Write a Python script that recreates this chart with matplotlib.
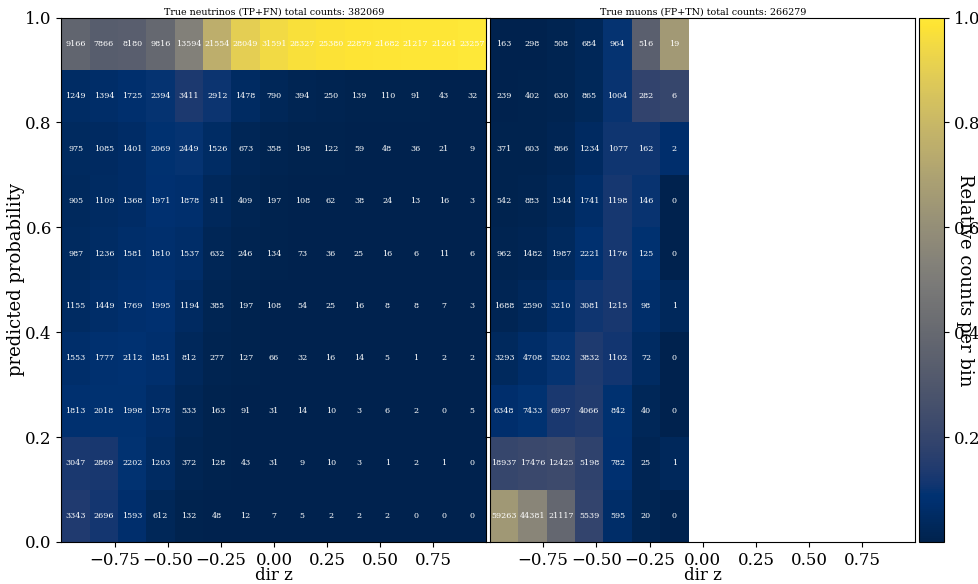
import numpy as np
import matplotlib
matplotlib.use("Agg")
import matplotlib.pyplot as plt

plt.rcParams['font.family'] = ['DejaVu Serif']

# counts, rows listed from top (prob 0.9-1.0) to bottom (0.0-0.1)
nu_counts = [
    [9166, 7866, 8180, 9816, 13594, 21554, 28049, 31591, 28327, 25380, 22879, 21682, 21217, 21261, 23257],
    [1249, 1394, 1725, 2394, 3411, 2912, 1478, 790, 394, 250, 139, 110, 91, 43, 32],
    [975, 1085, 1401, 2069, 2449, 1526, 673, 358, 198, 122, 59, 48, 36, 21, 9],
    [905, 1109, 1368, 1971, 1878, 911, 409, 197, 108, 62, 38, 24, 13, 16, 3],
    [987, 1236, 1581, 1810, 1537, 632, 246, 134, 73, 36, 25, 16, 6, 11, 6],
    [1155, 1449, 1769, 1995, 1194, 385, 197, 108, 54, 25, 16, 8, 8, 7, 3],
    [1553, 1777, 2112, 1851, 812, 277, 127, 66, 32, 16, 14, 5, 1, 2, 2],
    [1813, 2018, 1998, 1378, 533, 163, 91, 31, 14, 10, 3, 6, 2, 0, 5],
    [3047, 2869, 2202, 1203, 372, 128, 43, 31, 9, 10, 3, 1, 2, 1, 0],
    [3343, 2696, 1593, 612, 132, 48, 12, 7, 5, 2, 2, 2, 0, 0, 0],
]
mu_counts = [
    [163, 298, 508, 684, 964, 516, 19],
    [239, 402, 630, 865, 1004, 282, 6],
    [371, 603, 866, 1234, 1077, 162, 2],
    [542, 883, 1344, 1741, 1198, 146, 0],
    [962, 1482, 1987, 2221, 1176, 125, 0],
    [1688, 2590, 3210, 3081, 1215, 98, 1],
    [3293, 4708, 5202, 3832, 1102, 72, 0],
    [6348, 7433, 6997, 4066, 842, 40, 0],
    [18937, 17476, 12425, 5198, 782, 25, 1],
    [59263, 44381, 21117, 5539, 595, 20, 0],
]
nu_title = "True neutrinos (TP+FN) total counts: 382069"
mu_title = "True muons (FP+TN) total counts: 266279"
x_edges = np.linspace(-1, 1, 16)
y_edges = np.linspace(0, 1, 11)
xticks = [-0.75, -0.5, -0.25, 0.0, 0.25, 0.5, 0.75]
yticks = [0.0, 0.2, 0.4, 0.6, 0.8, 1.0]
cbar_ticks = [0.2, 0.4, 0.6, 0.8, 1.0]

W, H = 979, 584
fig = plt.figure(figsize=(W / 100, H / 100), dpi=100)

def rect(x0, x1, y0, y1):
    return [x0 / W, 1 - y1 / H, (x1 - x0) / W, (y1 - y0) / H]

ax1 = fig.add_axes(rect(61.5, 486.5, 17.5, 542))
ax2 = fig.add_axes(rect(490, 915.5, 17.5, 542))
cax = fig.add_axes(rect(919.5, 944.5, 17.5, 542))

def draw(ax, counts, title):
    c = np.array(counts, dtype=float)[::-1]  # bottom row first
    ncol = c.shape[1]
    full = np.full((10, 15), np.nan)
    full[:, :ncol] = c
    colsum = np.nansum(full, axis=0)
    with np.errstate(invalid='ignore', divide='ignore'):
        rel = full / colsum
    mesh = ax.pcolormesh(x_edges, y_edges, np.ma.masked_invalid(rel),
                         cmap='cividis', vmin=0, vmax=1)
    xc = 0.5 * (x_edges[:-1] + x_edges[1:])
    yc = 0.5 * (y_edges[:-1] + y_edges[1:])
    for i in range(10):
        for j in range(ncol):
            ax.text(xc[j], yc[i], f"{int(c[i, j])}", ha='center', va='center',
                    color='white', fontsize=5.8)
    ax.set_xlim(-1, 1)
    ax.set_ylim(0, 1)
    ax.set_xticks(xticks)
    ax.set_yticks(yticks)
    ax.tick_params(labelsize=12)
    ax.set_xlabel("dir z", fontsize=12, labelpad=-1)
    ax.set_title(title, fontsize=6.8, pad=2)
    return mesh

m = draw(ax1, nu_counts, nu_title)
draw(ax2, mu_counts, mu_title)
ax2.tick_params(labelleft=False)
ax1.set_ylabel("predicted probability", fontsize=13)
ax1.yaxis.set_label_coords(-36 / 425, 0.5)

cb = fig.colorbar(m, cax=cax, ticks=cbar_ticks)
cb.ax.tick_params(labelsize=12)
fig.text(965 / W, 1 - 280 / H, "Relative counts per bin", rotation=270,
         ha='center', va='center', fontsize=13)

fig.savefig("out.png", dpi=100)
